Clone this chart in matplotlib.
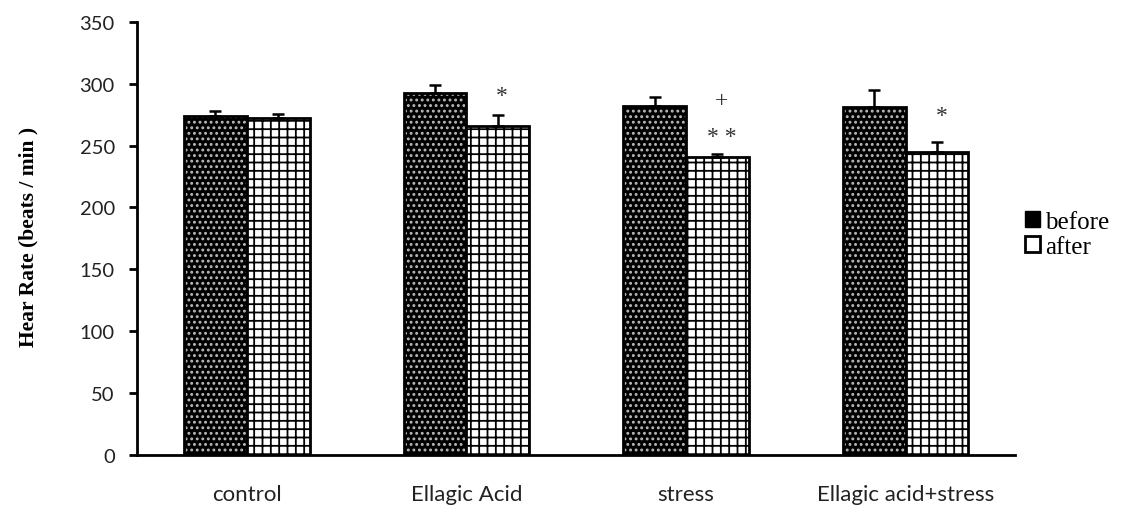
import numpy as np
import matplotlib
matplotlib.use('Agg')
import matplotlib.pyplot as plt
from matplotlib.patches import Patch

groups = ['control', 'Ellagic Acid', 'stress', 'Ellagic acid+stress']
before = [274, 292.5, 282, 281]
before_err = [3.5, 6, 7, 14]
after = [272.5, 266, 240.5, 245]
after_err = [3.3, 8.7, 3, 8]
# significance marks above the "after" bars: (group index, y, text)
marks = [(1, 290, '*'), (2, 286, '+'), (2, 257, '* *'), (3, 274, '*')]

plt.rcParams['hatch.linewidth'] = 1.3

fig = plt.figure(figsize=(11.36, 5.06), dpi=100)
ax = fig.add_axes([0.1206, 0.0988, 0.7732, 0.8563])

x = np.arange(len(groups))
w = 0.286

# before: black with small light dots
ax.bar(x - w/2, before, w, color='black', edgecolor='#bbbbbb', hatch='...', linewidth=0)
ax.bar(x - w/2, before, w, fill=False, edgecolor='black', linewidth=2)
# after: white with black grid
ax.bar(x + w/2, after, w, color='white', edgecolor='black', hatch='++', linewidth=2)

ax.errorbar(x - w/2, before, yerr=[np.zeros(4), before_err], fmt='none',
            ecolor='black', elinewidth=1.8, capsize=4, capthick=1.8)
ax.errorbar(x + w/2, after, yerr=[np.zeros(4), after_err], fmt='none',
            ecolor='black', elinewidth=1.8, capsize=4, capthick=1.8)

for i, y, s in marks:
    ax.text(x[i] + w/2 + 0.02, y, s, ha='center', va='center', fontsize=17,
            family='Liberation Serif', color='#333333')

ax.set_xlim(-0.5, 3.5)
ax.set_ylim(0, 350)
ax.set_yticks(range(0, 351, 50))
ax.set_xticks(x)
ax.set_xticklabels(groups, family='Lato', fontsize=16, color='#222222')
for lab in ax.get_yticklabels():
    lab.set_family('Lato')
    lab.set_fontsize(14.5)
    lab.set_color('#222222')
ax.tick_params(axis='x', length=0, pad=21)
ax.tick_params(axis='y', direction='out', length=6, width=2, pad=10)

for s in ['top', 'right']:
    ax.spines[s].set_visible(False)
for s in ['left', 'bottom']:
    ax.spines[s].set_linewidth(2)

ax.set_ylabel('Hear Rate (beats / min )', family='Liberation Serif',
              fontweight='bold', fontsize=15.5)
ax.yaxis.set_label_coords(-0.112, 0.505)

handles = [Patch(facecolor='black', edgecolor='black', hatch='..', label='before'),
           Patch(facecolor='white', edgecolor='black', linewidth=2, label='after')]
fig.legend(handles=handles, loc='center left', bbox_to_anchor=(0.902, 0.535),
           frameon=False, prop={'family': 'Liberation Serif', 'size': 18},
           handlelength=0.6, handleheight=0.6, handletextpad=0.2, labelspacing=0.12,
           borderpad=0, borderaxespad=0)

plt.savefig('out.png', dpi=100)
